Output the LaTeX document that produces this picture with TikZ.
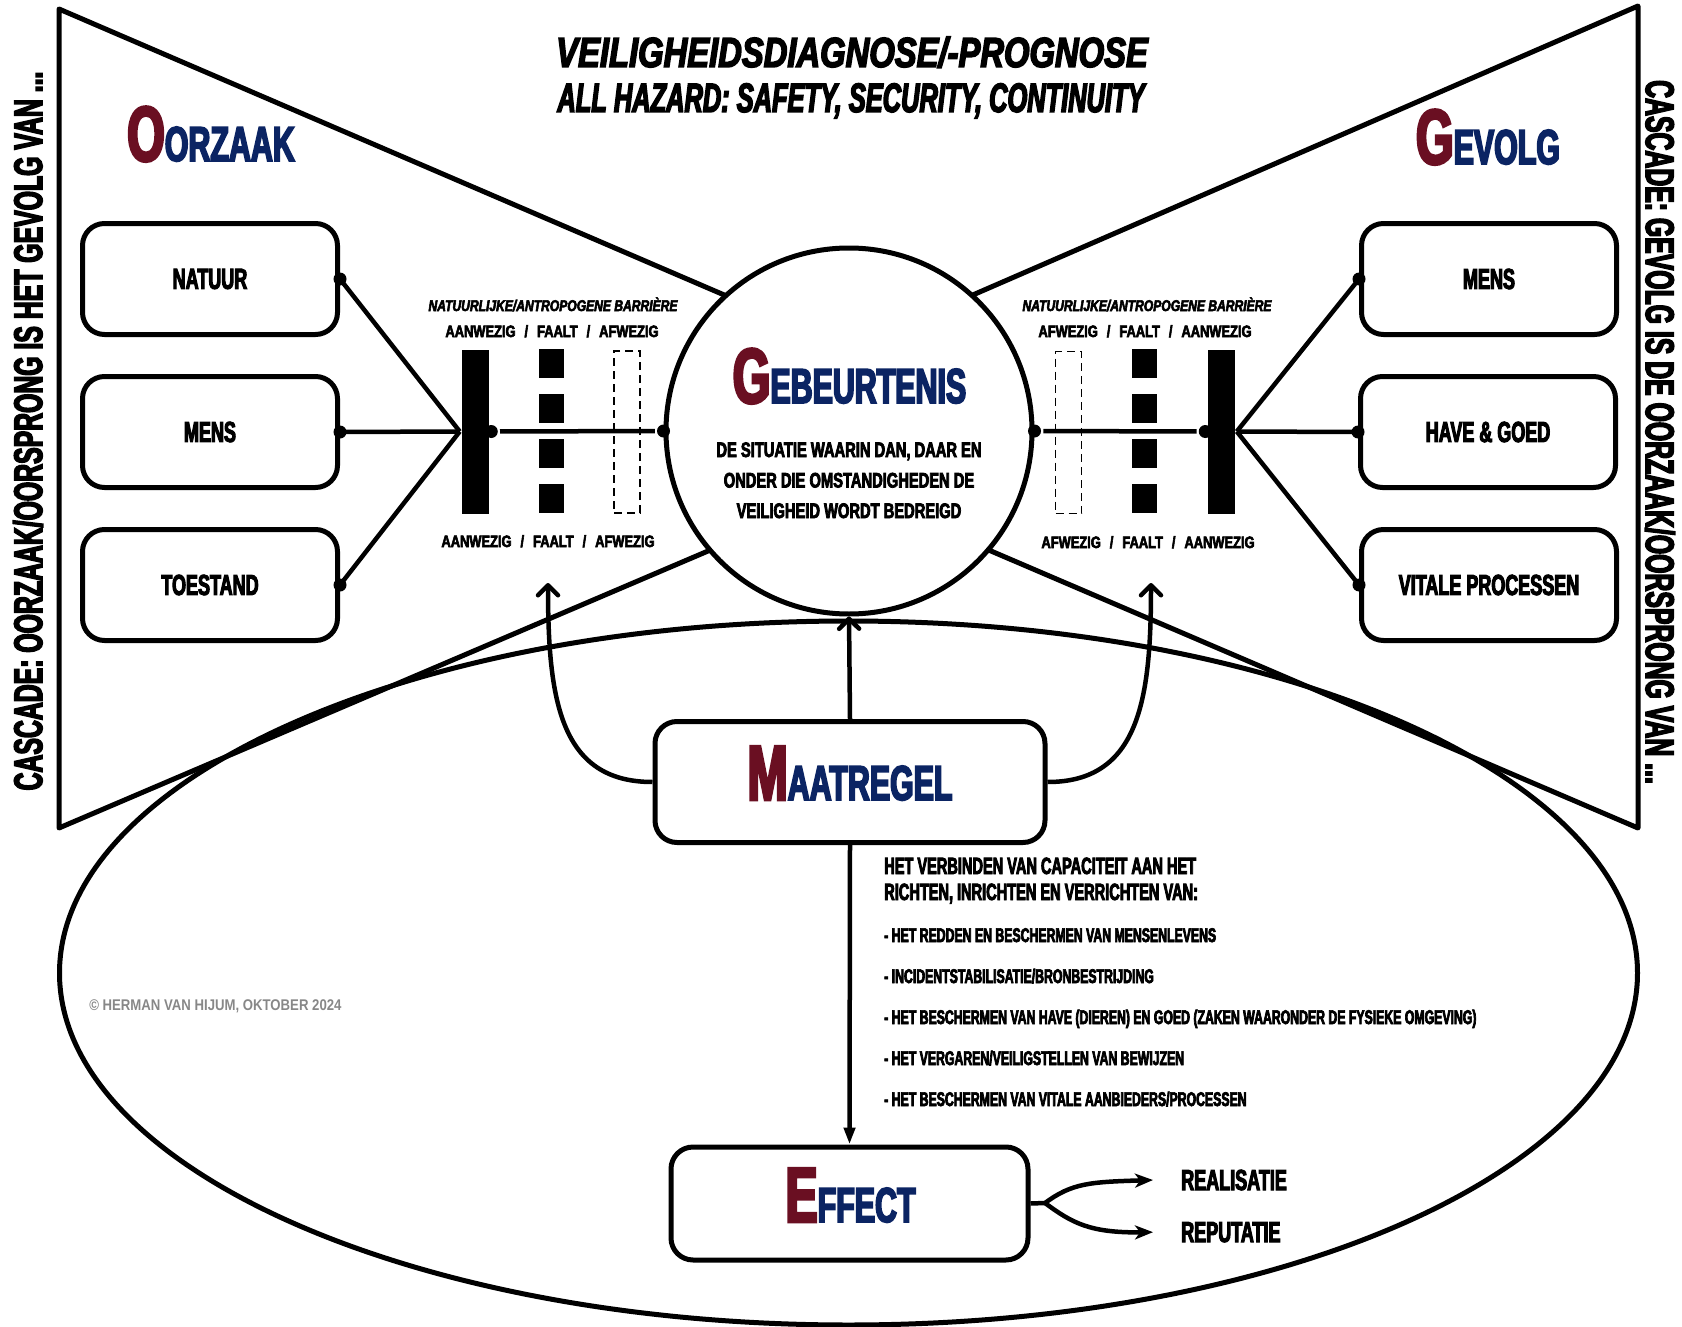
\documentclass[tikz,border=0pt]{standalone}
\usepackage{fontspec}
\usepackage{tikz}
\usetikzlibrary{arrows.meta,positioning,shapes}
\newfontfamily\impfont{Liberation Sans}[FakeStretch=0.62,FakeBold=3.5]
\newfontfamily\impmid{Liberation Sans}[FakeStretch=0.70,FakeBold=3.5]
\newfontfamily\impwide{Liberation Sans}[FakeStretch=0.78,FakeBold=3.5]
\newfontfamily\copyfont{Liberation Sans}[FakeStretch=0.85]
\definecolor{capred}{HTML}{6A0F22}
\definecolor{capblue}{HTML}{0B2463}
\newcommand\initword[2]{{\impfont\bfseries\color{capred}\fontsize{78}{78}\selectfont #1\color{capblue}\fontsize{49}{49}\selectfont #2}}
\newcommand\slsep{\hspace{9pt}/\hspace{9pt}}
\tikzset{
  cell/.style={draw,line width=5pt,rounded corners=22pt,fill=white,minimum width=255pt,minimum height=111pt,font=\impfont\bfseries\fontsize{29}{30}\selectfont},
  dot/.style={circle,fill,inner sep=0pt,minimum size=13pt},
  bar/.style={fill,inner sep=0pt,minimum width=27pt,minimum height=164pt},
  seg/.style={fill,inner sep=0pt,minimum width=25pt,minimum height=29pt},
  gap/.style={draw,line width=1.5pt,dash pattern=on 8pt off 5pt,inner sep=0pt,minimum width=26pt,minimum height=162pt},
  btitle/.style={anchor=base,inner sep=0pt,font=\impwide\bfseries\itshape\fontsize{15.5}{16}\selectfont},
  bstate/.style={anchor=base,inner sep=0pt,font=\impwide\bfseries\fontsize{16.5}{17}\selectfont},
  desc/.style={anchor=base,inner sep=0pt,font=\impmid\bfseries\fontsize{21}{22}\selectfont},
  item/.style={anchor=base west,inner sep=0pt,font=\impfont\bfseries\fontsize{19.8}{20}\selectfont},
  side/.style={inner sep=0pt,font=\impfont\bfseries\fontsize{40}{40}\selectfont},
  barb/.style={-{Straight Barb[length=10pt,width=20pt,round]}},
  fork/.style={-{Stealth[length=18pt,width=14pt,inset=5pt]}}
}
\begin{document}
\begin{tikzpicture}[x=1pt,y=-1pt,line width=4.5pt]
\useasboundingbox (0,0) rectangle (1682,1327);

% bow tie
\draw[line width=5pt,line join=round] (59,9) -- (59,828) -- (1015,420) -- cycle;
\draw[line width=5pt,line join=round] (1638,6) -- (1638,828) -- (685,420) -- cycle;
\draw[line width=5pt] (848.5,973) ellipse [x radius=789, y radius=352];

% titles
\node[anchor=base,inner sep=0pt,font=\impwide\bfseries\itshape\fontsize{42}{44}\selectfont] (title) at (852,67) {VEILIGHEIDSDIAGNOSE/-PROGNOSE};
\node[anchor=base,inner sep=0pt,font=\impfont\bfseries\itshape\fontsize{41}{42}\selectfont] (subtitle) at (851,112) {ALL HAZARD: SAFETY, SECURITY, CONTINUITY};
\node[anchor=base,inner sep=0pt] (cause) at (211,161) {\initword{O}{ORZAAK}};
\node[anchor=base,inner sep=0pt] (effectlbl) at (1488,164) {\initword{G}{EVOLG}};
\node[side,rotate=90] (lside) at (28,431) {CASCADE: OORZAAK/OORSPRONG IS HET GEVOLG VAN ...};
\node[side,rotate=-90] (rside) at (1660,432) {CASCADE: GEVOLG IS DE OORZAAK/OORSPRONG VAN ...};

% event
\node[circle,draw,fill=white,line width=5pt,minimum size=366pt,inner sep=0pt] (ev) at (849,431) {};
\node[anchor=base,inner sep=0pt] (evt) at (849.5,403) {\initword{G}{EBEURTENIS}};
\node[desc] (evd1) at (849,457) {DE SITUATIE WAARIN DAN, DAAR EN};
\node[desc] (evd2) at (849,487.5) {ONDER DIE OMSTANDIGHEDEN DE};
\node[desc] (evd3) at (849,518) {VEILIGHEID WORDT BEDREIGD};

% causes
\node[cell] (n1) at (210,279) {NATUUR};
\node[cell] (n2) at (210,432) {MENS};
\node[cell] (n3) at (210,585) {TOESTAND};
% consequences
\node[cell] (g1) at (1489,279) {MENS};
\node[cell] (g2) at (1488,432) {HAVE \& GOED};
\node[cell] (g3) at (1489,585) {VITALE PROCESSEN};

% barriers left
\node[bar] (lbar) at (475.5,431.5) {};
\foreach \i in {0,...,3}
  \node[seg] (lseg\i) at (551.5,363.5+45*\i) {};
\node[gap] (lgap) at (627,432) {};
\foreach \n in {1,2,3} {
  \draw (n\n.east) -- (lbar.west);
  \node[dot] at (n\n.east) {};
}
\node[dot] (ldot) at (lbar.east) {};
\node[dot] (evw) at (ev.west) {};
\draw (ldot) -- (evw);
\node[btitle] (lbt) at (553,311) {NATUURLIJKE/ANTROPOGENE BARRIÈRE};
\node[bstate] (ltop) at (552,337) {AANWEZIG\slsep FAALT\slsep AFWEZIG};
\node[bstate] (lbot) at (548,547) {AANWEZIG\slsep FAALT\slsep AFWEZIG};

% barriers right
\node[bar] (rbar) at (1221,431.5) {};
\foreach \i in {0,...,3}
  \node[seg] (rseg\i) at (1144.5,363.5+45*\i) {};
\node[gap] (rgap) at (1068.5,432.5) {};
\foreach \n in {1,2,3} {
  \draw (rbar.east) -- (g\n.west);
  \node[dot] at (g\n.west) {};
}
\node[dot] (rdot) at (rbar.west) {};
\node[dot] (eve) at (ev.east) {};
\draw (eve) -- (rdot);
\node[btitle] (rbt) at (1147,311) {NATUURLIJKE/ANTROPOGENE BARRIÈRE};
\node[bstate] (rtop) at (1145,337) {AFWEZIG\slsep FAALT\slsep AANWEZIG};
\node[bstate] (rbot) at (1148,548) {AFWEZIG\slsep FAALT\slsep AANWEZIG};

% measure
\node[cell,minimum width=390pt,minimum height=121pt] (maat) at (850,782) {};
\node[anchor=base,inner sep=0pt] (maatt) at (850,800) {\initword{M}{AATREGEL}};
\coordinate (la) at (548,583);
\coordinate (ra) at (1151,583);
\draw[barb] (maat.north) -- (ev.south);
\draw[barb] (maat.west) .. controls (560,782) and (548,700) .. (la);
\draw[barb] (maat.east) .. controls (1139,782) and (1151,700) .. (ra);

\node[item,font=\impfont\bfseries\fontsize{23.5}{24}\selectfont] (bh1) at (882,874) {HET VERBINDEN VAN CAPACITEIT AAN HET};
\node[item,font=\impfont\bfseries\fontsize{23.5}{24}\selectfont] (bh2) at (882,900) {RICHTEN, INRICHTEN EN VERRICHTEN VAN:};
\foreach \t [count=\i] in {{- HET REDDEN EN BESCHERMEN VAN MENSENLEVENS},
    {- INCIDENTSTABILISATIE/BRONBESTRIJDING},
    {- HET BESCHERMEN VAN HAVE (DIEREN) EN GOED (ZAKEN WAARONDER DE FYSIEKE OMGEVING)},
    {- HET VERGAREN/VEILIGSTELLEN VAN BEWIJZEN},
    {- HET BESCHERMEN VAN VITALE AANBIEDERS/PROCESSEN}}
  \node[item] (it\i) at (882,901+41*\i) {\t};

\node[anchor=base west,inner sep=0pt,text=black!47,font=\copyfont\bfseries\fontsize{15.5}{16}\selectfont] (copy) at (87,1010) {© HERMAN VAN HIJUM, OKTOBER 2024};

% effect
\node[cell,minimum width=357pt,minimum height=113pt] (eff) at (849.5,1203.5) {};
\node[anchor=base,inner sep=0pt] (efft) at (850.5,1222) {\initword{E}{FFECT}};
\draw[-{Triangle[length=17pt,width=11pt]}] (maat.south) -- (eff.north);
\node[item,font=\impfont\bfseries\fontsize{29}{30}\selectfont] (real) at (1179,1190) {REALISATIE};
\node[item,font=\impfont\bfseries\fontsize{29}{30}\selectfont] (rep) at (1179,1242) {REPUTATIE};
\coordinate (split) at (1045,1203);
\draw (eff.east) -- (split);
\draw[fork] (split) .. controls (1072,1183) and (1090,1182) .. ([xshift=-26pt]real.west);
\draw[fork] (split) .. controls (1072,1223) and (1090,1233) .. ([xshift=-26pt]rep.west);
\end{tikzpicture}
\end{document}
